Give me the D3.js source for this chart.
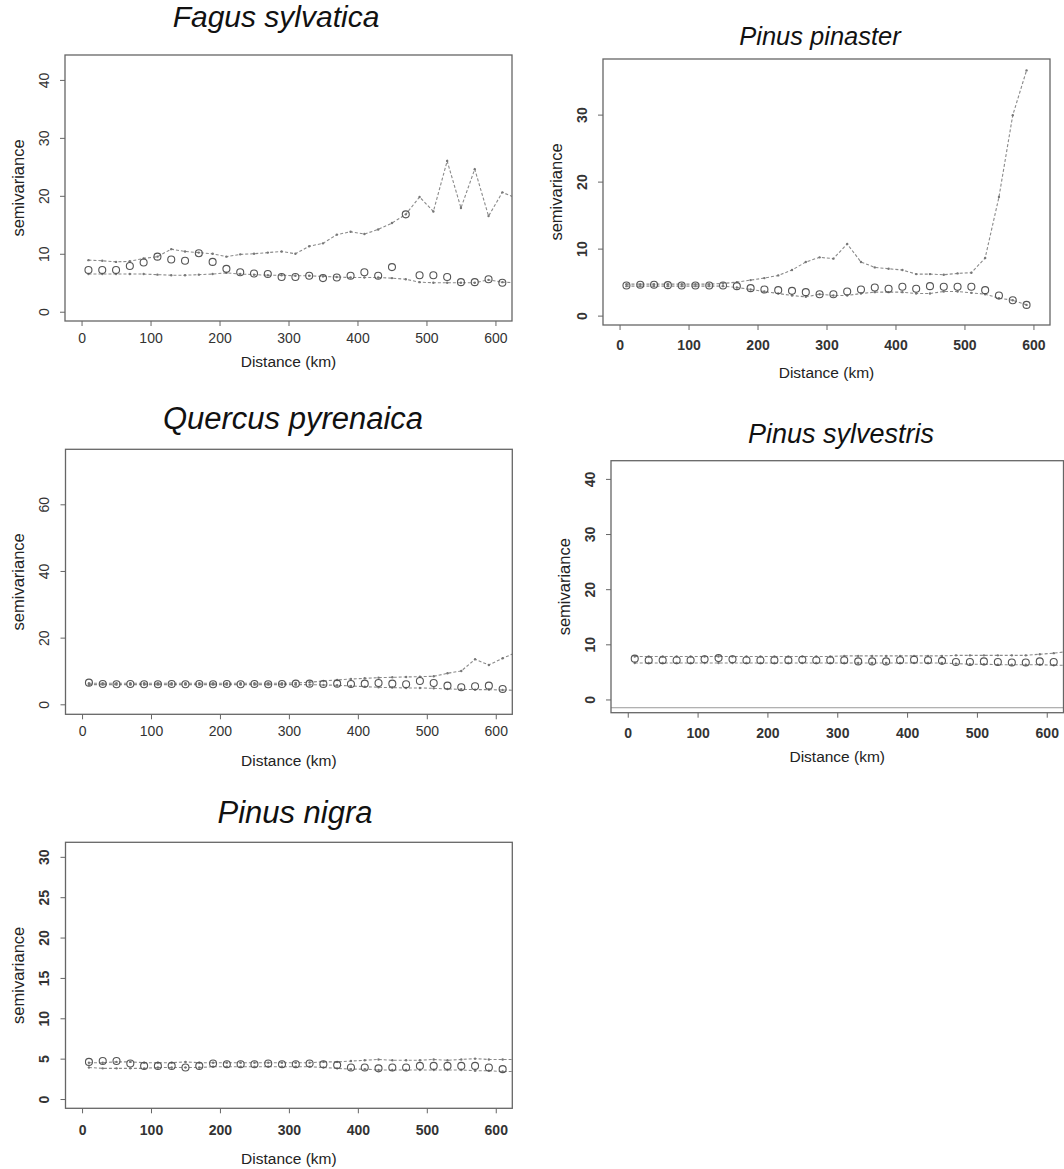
<!DOCTYPE html>
<html><head><meta charset="utf-8">
<script src="https://cdn.jsdelivr.net/npm/d3@7"></script>
<style>body{margin:0;background:#fff}svg{display:block}</style>
</head><body>
<svg id="chart" width="1064" height="1169"></svg>
<script>
// ---- data ----
const lagsObs = [10,30,50,70,90,110,130,150,170,190,210,230,250,270,290,310,330,350,370,390,410,430,450,470,490,510,530,550,570,590,610];
const lagsEnv = [10,30,50,70,90,110,130,150,170,190,210,230,250,270,290,310,330,350,370,390,410,430,450,470,490,510,530,550,570,590,610,630];
const lagsPinaster = [10,30,50,70,90,110,130,150,170,190,210,230,250,270,290,310,330,350,370,390,410,430,450,470,490,510,530,550,570,590];
const xTicks = [0,100,200,300,400,500,600];

const fagusObs   = [7.2,7.2,7.2,7.9,8.5,9.5,9.0,8.8,10.1,8.6,7.4,6.8,6.6,6.5,6.0,6.0,6.2,5.8,5.9,6.2,6.8,6.2,7.7,16.8,6.3,6.3,6.0,5.1,5.1,5.6,5.0];
const fagusUpper = [8.9,8.8,8.6,8.7,9.2,9.5,10.8,10.4,10.2,10.0,9.5,9.9,10.0,10.2,10.4,10.0,11.3,11.8,13.3,13.8,13.4,14.2,15.3,16.8,19.8,17.3,26.0,17.9,24.6,16.5,20.6,19.6];
const fagusLower = [6.5,6.5,6.5,6.5,6.5,6.4,6.3,6.3,6.4,6.5,6.7,6.5,6.4,6.3,6.3,6.2,6.2,6.1,6.0,5.9,5.9,5.9,5.8,5.6,5.1,5.0,5.0,5.0,5.0,5.5,5.1,5.0];

const pinasterObs   = [4.5,4.6,4.6,4.55,4.5,4.5,4.5,4.5,4.4,4.1,3.9,3.8,3.7,3.5,3.2,3.2,3.6,3.9,4.2,4.0,4.3,4.0,4.4,4.3,4.3,4.3,3.8,3.0,2.3,1.6];
const pinasterUpper = [4.7,4.7,4.7,4.7,4.7,4.7,4.7,4.8,5.0,5.3,5.6,6.0,6.8,8.0,8.7,8.5,10.7,8.0,7.2,7.0,6.8,6.2,6.2,6.1,6.3,6.4,8.6,17.7,29.9,36.6];
const pinasterLower = [4.4,4.4,4.4,4.4,4.4,4.4,4.4,4.4,4.2,3.9,3.6,3.3,3.0,2.8,3.2,3.0,3.0,3.3,3.5,3.5,3.5,3.3,3.3,3.6,3.6,3.4,3.2,2.6,2.3,1.6];

const quercusObs   = [6.5,6.1,6.0,6.1,6.0,6.0,6.1,6.0,6.1,6.0,6.1,6.0,6.1,6.0,6.1,6.2,6.2,6.1,6.2,6.1,6.2,6.4,6.2,6.0,7.0,6.4,5.6,5.1,5.4,5.6,4.6];
const quercusUpper = [6.3,6.3,6.3,6.3,6.3,6.3,6.3,6.3,6.3,6.3,6.3,6.3,6.3,6.3,6.3,6.4,6.6,7.0,7.3,7.6,7.8,8.0,8.1,8.2,8.3,8.4,9.3,10.0,13.5,11.8,13.8,15.6];
const quercusLower = [5.9,5.9,5.9,5.9,5.9,5.9,5.9,5.9,5.9,5.9,5.9,5.9,5.9,5.9,5.9,5.9,5.9,5.8,5.7,5.5,5.3,5.1,5.0,4.9,4.9,4.8,4.6,4.5,4.4,4.4,4.3,4.2];

const sylvestrisObs   = [7.4,7.1,7.1,7.1,7.1,7.3,7.5,7.3,7.1,7.1,7.1,7.1,7.2,7.1,7.1,7.1,6.9,6.9,6.9,7.1,7.2,7.1,7.0,6.8,6.8,6.9,6.8,6.7,6.7,6.9,6.8];
const sylvestrisUpper = [7.8,7.8,7.8,7.8,7.8,7.8,7.8,7.8,7.8,7.8,7.8,7.8,7.8,7.8,7.8,7.9,7.9,7.9,7.9,7.9,7.9,7.9,7.9,8.0,8.0,8.0,8.0,8.0,8.0,8.2,8.4,8.7];
const sylvestrisLower = [6.6,6.6,6.6,6.6,6.6,6.6,6.6,6.6,6.6,6.6,6.6,6.6,6.6,6.6,6.6,6.6,6.6,6.6,6.6,6.6,6.6,6.6,6.6,6.5,6.4,6.4,6.3,6.3,6.3,6.3,6.2,6.2];

const nigraObs   = [4.6,4.7,4.7,4.4,4.1,4.1,4.1,3.9,4.1,4.4,4.3,4.3,4.3,4.4,4.3,4.3,4.4,4.3,4.2,3.9,3.9,3.8,3.9,3.9,4.1,4.1,4.1,4.1,4.1,3.9,3.7];
const nigraUpper = [4.5,4.5,4.6,4.6,4.5,4.5,4.5,4.6,4.5,4.5,4.5,4.5,4.5,4.5,4.5,4.5,4.5,4.6,4.6,4.7,4.8,4.9,4.8,4.8,4.8,4.9,4.8,4.9,5.0,4.9,4.9,4.9];
const nigraLower = [3.9,3.8,3.8,3.8,3.8,3.9,3.9,3.9,3.9,4.0,4.0,4.0,4.0,4.0,4.0,4.0,4.0,3.9,3.8,3.7,3.7,3.6,3.6,3.6,3.6,3.6,3.6,3.6,3.5,3.5,3.4,3.4];

// ---- layout ----
const panels = [
  {title:"Fagus sylvatica", obsX:lagsObs, envX:lagsEnv, obs:fagusObs, upper:fagusUpper, lower:fagusLower,
   yDomain:[-1.6,44.3], yTicks:[0,10,20,30,40], box:[65,55,512,321], titleX:276, titleY:27, titleSize:30, xLabOff:17, xTitleOff:41, bold:false},
  {title:"Pinus pinaster", obsX:lagsPinaster, envX:lagsPinaster, obs:pinasterObs, upper:pinasterUpper, lower:pinasterLower,
   yDomain:[-1.4,38.3], yTicks:[0,10,20,30], box:[603,59,1050,325], titleX:820, titleY:45, titleSize:25.5, xLabOff:20, xTitleOff:48, bold:true},
  {title:"Quercus pyrenaica", obsX:lagsObs, envX:lagsEnv, obs:quercusObs, upper:quercusUpper, lower:quercusLower,
   yDomain:[-3.0,76.5], yTicks:[0,20,40,60], box:[65.5,449.3,512.3,714.3], titleX:293, titleY:429, titleSize:31, xLabOff:17, xTitleOff:46, bold:false},
  {title:"Pinus sylvestris", obsX:lagsObs, envX:lagsEnv, obs:sylvestrisObs, upper:sylvestrisUpper, lower:sylvestrisLower,
   yDomain:[-2.4,43.3], yTicks:[0,10,20,30,40], box:[611,460.7,1063.5,712.7], titleX:841, titleY:443, titleSize:27, xLabOff:20, xTitleOff:44, bold:true, extraLine:-1.5},
  {title:"Pinus nigra", obsX:lagsObs, envX:lagsEnv, obs:nigraObs, upper:nigraUpper, lower:nigraLower,
   yDomain:[-1.15,31.8], yTicks:[0,5,10,15,20,25,30], box:[65.5,842.3,512.3,1108.3], titleX:295, titleY:823, titleSize:31, xLabOff:22, xTitleOff:50, bold:true}
];

const svg = d3.select("#chart");
svg.append("rect").attr("width",1064).attr("height",1169).attr("fill","#fff");
const FONT = "'Liberation Sans', Arial, sans-serif";

panels.forEach((p, i) => {
  const [L,T,R,B] = p.box;
  const x = d3.scaleLinear().domain([-24,624]).range([L,R]);
  const y = d3.scaleLinear().domain(p.yDomain).range([B,T]);
  const g = svg.append("g");
  const clipId = "clip"+i;
  svg.append("clipPath").attr("id",clipId).append("rect").attr("x",L).attr("y",T).attr("width",R-L).attr("height",B-T);

  // title
  g.append("text").attr("x",p.titleX).attr("y",p.titleY).attr("text-anchor","middle")
    .attr("font-family",FONT).attr("font-style","italic").attr("font-size",p.titleSize).attr("fill","#111").text(p.title);

  // x axis
  const xa = g.append("g").attr("transform",`translate(0,${B})`)
    .call(d3.axisBottom(x).tickValues(xTicks).tickSize(5).tickFormat(d3.format("d")));
  xa.select(".domain").remove();
  xa.selectAll(".tick line").attr("stroke","#666");
  xa.selectAll(".tick text").attr("y",p.xLabOff).attr("dy","0.35em")
    .attr("font-family",FONT).attr("font-size",14).attr("font-weight",p.bold?"bold":"normal").attr("fill","#333");

  // y axis
  const ya = g.append("g").attr("transform",`translate(${L},0)`)
    .call(d3.axisLeft(y).tickValues(p.yTicks).tickSize(5).tickFormat(d3.format("d")));
  ya.select(".domain").remove();
  ya.selectAll(".tick line").attr("stroke","#666");
  ya.selectAll(".tick text").attr("x",0).attr("y",-21).attr("dy","0.35em").attr("text-anchor","middle")
    .attr("transform","rotate(-90)")
    .attr("font-family",FONT).attr("font-size",14).attr("font-weight",p.bold?"bold":"normal").attr("fill","#333");

  // axis titles
  g.append("text").attr("x",(L+R)/2).attr("y",B+p.xTitleOff).attr("dy","0.35em").attr("text-anchor","middle")
    .attr("font-family",FONT).attr("font-size",15.5).attr("fill","#222").text("Distance (km)");
  g.append("text").attr("transform",`translate(${L-47},${(T+B)/2}) rotate(-90)`).attr("dy","0.35em").attr("text-anchor","middle")
    .attr("font-family",FONT).attr("font-size",16.5).attr("fill","#222").text("semivariance");

  // plot content
  const pg = g.append("g").attr("clip-path",`url(#${clipId})`);
  const line = d3.line().x(d=>x(d[0])).y(d=>y(d[1]));
  [p.upper,p.lower].forEach(arr => {
    const pts = p.envX.map((d,k)=>[d,arr[k]]);
    pg.append("path").attr("d",line(pts)).attr("fill","none").attr("stroke","#8a8a8a")
      .attr("stroke-width",1.1).attr("stroke-dasharray","3,2");
    pg.selectAll(null).data(pts).enter().append("circle")
      .attr("cx",d=>x(d[0])).attr("cy",d=>y(d[1])).attr("r",1.2).attr("fill","#777");
  });
  pg.selectAll(null).data(p.obsX.map((d,k)=>[d,p.obs[k]])).enter().append("circle")
    .attr("cx",d=>x(d[0])).attr("cy",d=>y(d[1])).attr("r",3.5)
    .attr("fill","none").attr("stroke","#555").attr("stroke-width",1.1);

  if (p.extraLine !== undefined) {
    g.append("line").attr("x1",L).attr("x2",R).attr("y1",y(p.extraLine)).attr("y2",y(p.extraLine))
      .attr("stroke","#999").attr("stroke-width",1);
  }

  // box
  g.append("rect").attr("x",L).attr("y",T).attr("width",R-L).attr("height",B-T)
    .attr("fill","none").attr("stroke","#666").attr("stroke-width",1.3);
});
</script>
</body></html>
